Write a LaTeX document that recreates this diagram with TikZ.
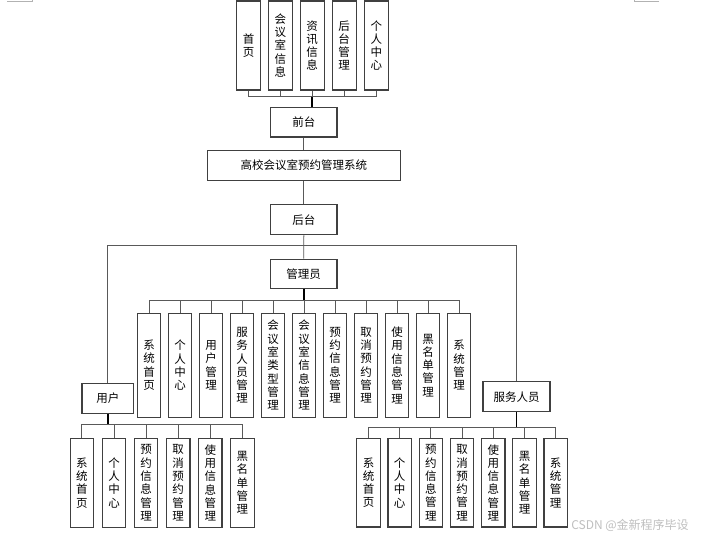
\documentclass[tikz,border=0pt]{standalone}
\usepackage{fontspec}
\setmainfont{Noto Sans CJK SC}
\begin{document}
\begin{tikzpicture}[x=1pt,y=-1pt,
  box/.style={draw=black!75,line width=1.2pt,fill=white,inner sep=0pt,font=\fontsize{11.5}{13.3}\selectfont,align=center},
  vbox/.style={box,minimum width=23.5pt},
  hbox/.style={box},
  conn/.style={draw=black!65,line width=0.9pt},
  trunk/.style={draw=black,line width=1.8pt},
]
\useasboundingbox (0,0) rectangle (703,539);
\fill[white] (0,0) rectangle (703,539);
% corner marks
\draw[black!30,line width=0.8pt] (7,1) -- (32,1) -- (32,0);
\draw[black!30,line width=0.8pt] (659,1) -- (634,1) -- (634,0);

% top row
\node[vbox,minimum height=89pt,minimum width=24pt] (t1) at (248.5,45.5) {首\\页};
\node[vbox,minimum height=89pt,minimum width=24pt] (t2) at (280.3,45.5) {会\\议\\室\\信\\息};
\node[vbox,minimum height=89pt,minimum width=24pt] (t3) at (312.2,45.5) {资\\讯\\信\\息};
\node[vbox,minimum height=89pt,minimum width=24pt] (t4) at (344.2,45.5) {后\\台\\管\\理};
\node[vbox,minimum height=89pt,minimum width=24pt] (t5) at (376.3,45.5) {个\\人\\中\\心};

\node[hbox,minimum width=66.3pt,minimum height=29.7pt] (qt) at (303.8,122.2) {前台};
\node[hbox,minimum width=193pt,minimum height=30pt] (sys) at (303.8,165.3) {高校会议室预约管理系统};
\node[hbox,minimum width=66.3pt,minimum height=30pt] (ht) at (303.8,219.7) {后台};
\node[hbox,minimum width=66.7pt,minimum height=29.4pt] (adm) at (303.7,274) {管理员};
\node[hbox,minimum width=51.7pt,minimum height=29.6pt] (usr) at (107.9,398.5) {用户};
\node[hbox,minimum width=67pt,minimum height=30pt] (srv) at (516.5,396.7) {服务人员};

% admin children
\foreach \i/\t in {0/{系\\统\\首\\页},1/{个\\人\\中\\心},2/{用\\户\\管\\理},3/{服\\务\\人\\员\\管\\理},4/{会\\议\\室\\类\\型\\管\\理},5/{会\\议\\室\\信\\息\\管\\理},6/{预\\约\\信\\息\\管\\理},7/{取\\消\\预\\约\\管\\理},8/{使\\用\\信\\息\\管\\理},9/{黑\\名\\单\\管\\理},10/{系\\统\\管\\理}}
  \node[vbox,minimum height=104pt] (a\i) at (149+31*\i,365.3) {\t};

% user children
\foreach \i/\t in {0/{系\\统\\首\\页},1/{个\\人\\中\\心},2/{预\\约\\信\\息\\管\\理},3/{取\\消\\预\\约\\管\\理},4/{使\\用\\信\\息\\管\\理},5/{黑\\名\\单\\管\\理}}
  \node[vbox,minimum height=89pt] (u\i) at (81.9+32.1*\i,482.8) {\t};

% service children
\foreach \i/\t in {0/{系\\统\\首\\页},1/{个\\人\\中\\心},2/{预\\约\\信\\息\\管\\理},3/{取\\消\\预\\约\\管\\理},4/{使\\用\\信\\息\\管\\理},5/{黑\\名\\单\\管\\理},6/{系\\统\\管\\理}}
  \node[vbox,minimum height=88.7pt] (s\i) at (368.5+31.2*\i,482.7) {\t};

% top connectors
\coordinate (tb) at (312.2,96.7);
\foreach \i in {1,...,5} \draw[conn] (t\i.south) -- (t\i.south |- tb);
\draw[conn] (t1.south |- tb) -- (t5.south |- tb);
\draw[trunk] (tb) -- (tb |- qt.north);
\draw[conn] (qt.south) -- (qt.south |- sys.north);
\draw[conn] (sys.south) -- (sys.south |- ht.north);

% backend split
\coordinate (hb) at (303.8,245.7);
\draw[conn] (ht.south) -- (adm.north);
\draw[conn] (usr.north) -- (usr.north |- hb) -- (srv.north |- hb) -- (srv.north);

% admin bus
\coordinate (ab) at (303.7,300);
\foreach \i in {0,...,10} \draw[conn] (a\i.north) -- (a\i.north |- ab);
\draw[conn] (a0.north |- ab) -- (a10.north |- ab);
\draw[trunk] (adm.south) -- (ab);

% user bus
\coordinate (ub) at (107.9,424.3);
\foreach \i in {0,...,5} \draw[conn] (u\i.north) -- (u\i.north |- ub);
\draw[conn] (u0.north |- ub) -- (u5.north |- ub);
\draw[trunk] (usr.south) -- (ub);

% service bus
\coordinate (sb) at (516.5,427.3);
\foreach \i in {0,...,6} \draw[conn] (s\i.north) -- (s\i.north |- sb);
\draw[conn] (s0.north |- sb) -- (s6.north |- sb);
\draw[trunk] (srv.south) -- (sb);

% watermark
\node[text=black!25,font=\fontsize{12}{13}\selectfont,inner sep=0pt] (wm) at (630,525) {CSDN @金新程序毕设};
\end{tikzpicture}
\end{document}
